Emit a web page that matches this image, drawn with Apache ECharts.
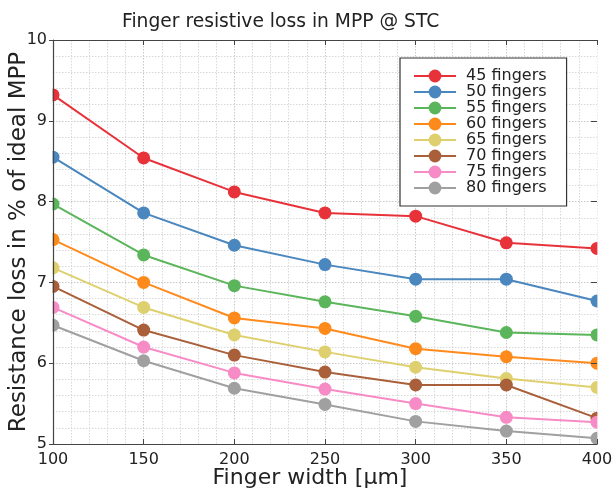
<!DOCTYPE html>
<html><head><meta charset="utf-8">
<script src="https://cdn.jsdelivr.net/npm/echarts@6/dist/echarts.min.js"></script>
<style>html,body{margin:0;padding:0;background:#fff}#c{width:613px;height:492px}</style>
</head><body><div id="c"></div>
<script>
var widths = [100, 150, 200, 250, 300, 350, 400];
var seriesNames = ['45 fingers','50 fingers','55 fingers','60 fingers','65 fingers','70 fingers','75 fingers','80 fingers'];
var f45 = [9.32, 8.54, 8.12, 7.86, 7.82, 7.49, 7.42];
var f50 = [8.55, 7.86, 7.46, 7.22, 7.04, 7.04, 6.77];
var f55 = [7.97, 7.34, 6.96, 6.76, 6.58, 6.38, 6.35];
var f60 = [7.53, 7.00, 6.56, 6.43, 6.18, 6.08, 6.00];
var f65 = [7.18, 6.69, 6.35, 6.14, 5.95, 5.81, 5.70];
var f70 = [6.95, 6.41, 6.10, 5.89, 5.73, 5.73, 5.32];
var f75 = [6.69, 6.20, 5.88, 5.68, 5.50, 5.33, 5.27];
var f80 = [6.47, 6.03, 5.69, 5.49, 5.28, 5.16, 5.07];
var allValues = [f45, f50, f55, f60, f65, f70, f75, f80];
var colors = ['#e8323a', '#4a87bf', '#5bb55a', '#ff8a1c', '#dfd06f', '#a9603a', '#f78bc6', '#a0a0a0'];

var FONT = 'DejaVu Sans';
var chart = echarts.init(document.getElementById('c'), null, {renderer: 'canvas'});
var series = seriesNames.map(function (n, i) {
  return {
    name: n, type: 'line', xAxisIndex: 0, yAxisIndex: 0,
    data: widths.map(function (w, j) { return [w, allValues[i][j]]; }),
    symbol: 'circle', symbolSize: 13, clip: true,
    lineStyle: {width: 2, color: colors[i]},
    itemStyle: {color: colors[i]},
    emphasis: {disabled: true}
  };
});
var gridLine = {show: true, lineStyle: {color: '#c8c8c8', type: [1.5, 1.5], width: 1}};
var minorGrid = {show: true, lineStyle: {color: '#d8d8d8', type: [1.5, 1.5], width: 1}};
var spine = {show: true, lineStyle: {color: '#444', width: 1.2}};
chart.setOption({
  animation: false,
  color: colors,
  textStyle: {fontFamily: FONT},
  title: {text: 'Finger resistive loss in MPP @ STC', left: 117, top: 8, z: 20,
    textStyle: {fontFamily: FONT, fontSize: 18.7, fontWeight: 'normal', color: '#222'}},
  grid: {left: 53, right: 16, top: 40, bottom: 48, show: false, containLabel: false, outerBoundsMode: 'none'},
  legend: {
    orient: 'vertical', left: 400, top: 58, z: 20,
    padding: [10, 20, 10, 13], itemGap: 0, itemWidth: 42, itemHeight: 16,
    borderColor: '#333', borderWidth: 1.2, borderRadius: 0, backgroundColor: '#fff',
    textStyle: {fontFamily: FONT, fontSize: 16, lineHeight: 16, color: '#222', padding: [0, 0, 0, 5]},
    data: seriesNames
  },
  xAxis: [{
    type: 'value', min: 100, max: 400, interval: 50, z: 10,
    name: 'Finger width [µm]', nameLocation: 'middle', nameGap: 23, nameMoveOverlap: false,
    nameTextStyle: {fontFamily: FONT, fontSize: 22, color: '#222', padding: [0, 30, 0, 0]},
    axisLine: spine,
    axisTick: {show: true, inside: true, length: 5, lineStyle: {color: '#444'}},
    axisLabel: {fontFamily: FONT, fontSize: 16, color: '#222', margin: 8},
    splitLine: {show: false}
  }, {
    type: 'value', min: 100, max: 400, interval: 50, position: 'top', z: 10,
    axisLine: spine,
    axisTick: {show: true, inside: true, length: 5, lineStyle: {color: '#444'}},
    axisLabel: {show: false}, splitLine: {show: false}
  }, {
    type: 'value', min: 100, max: 400, interval: 50, position: 'bottom', z: 0,
    axisLine: {show: false}, axisTick: {show: false}, axisLabel: {show: false},
    splitLine: gridLine,
    minorTick: {show: false, splitNumber: 5},
    minorSplitLine: minorGrid
  }],
  yAxis: [{
    type: 'value', min: 5, max: 10, interval: 1, z: 0,
    axisLine: {show: false}, axisTick: {show: false}, axisLabel: {show: false},
    splitLine: gridLine,
    minorTick: {show: false, splitNumber: 5},
    minorSplitLine: minorGrid
  }, {
    type: 'value', min: 5, max: 10, interval: 1, position: 'left', z: 10,
    name: 'Resistance loss in % of ideal MPP', nameLocation: 'middle', nameGap: 22, nameMoveOverlap: false,
    nameTextStyle: {fontFamily: FONT, fontSize: 23, color: '#222'},
    axisLine: spine,
    axisTick: {show: true, inside: false, length: 4, lineStyle: {color: '#444'}},
    axisLabel: {fontFamily: FONT, fontSize: 16, color: '#222', margin: 6},
    splitLine: {show: false}
  }, {
    type: 'value', min: 5, max: 10, interval: 1, position: 'right', z: 10,
    axisLine: {show: false},
    axisTick: {show: true, inside: true, length: 6, lineStyle: {color: '#444'}},
    axisLabel: {show: false}, splitLine: {show: false}
  }],
  graphic: {elements: [
    {type: 'rect', z: 5, silent: true, left: 0, top: 36, shape: {width: 52.6, height: 412}, style: {fill: '#fff'}},
    {type: 'rect', z: 5, silent: true, left: 597.4, top: 36, shape: {width: 20, height: 412}, style: {fill: '#fff'}}
  ]},
  series: series
});
</script></body></html>
